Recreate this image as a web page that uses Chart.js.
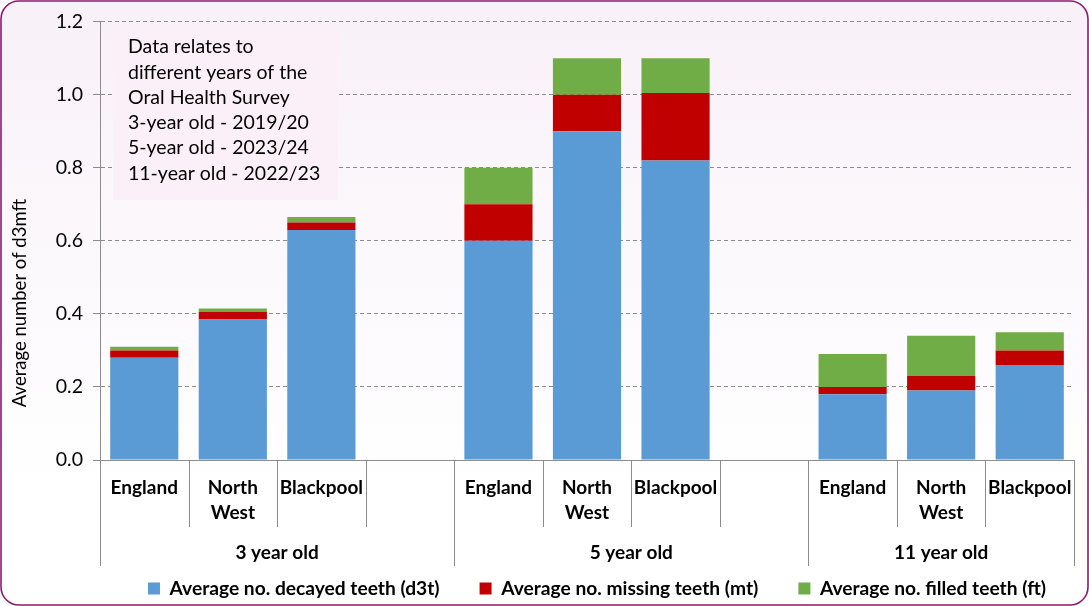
<!DOCTYPE html>
<html>
<head>
<meta charset="utf-8">
<script src="https://cdn.jsdelivr.net/npm/chart.js@4.4.1/dist/chart.umd.min.js"></script>
<style>
  html, body { margin: 0; padding: 0; background: #fff; }
  #wrap { width: 1089px; height: 606px; position: relative; }
</style>
</head>
<body>
<div id="wrap"><canvas id="chart"></canvas></div>
<script>
// categories (blank slot between age groups)
const regions = ['England', ['North', 'West'], 'Blackpool', '',
                 'England', ['North', 'West'], 'Blackpool', '',
                 'England', ['North', 'West'], 'Blackpool'];
const ageGroups = ['3 year old', '5 year old', '11 year old'];
const groupEdges = [0, 4, 8, 11]; // category edges where a new age group starts

// series values (average teeth per child)
const decayed = [0.28, 0.385, 0.63, null, 0.60, 0.90, 0.82, null, 0.18, 0.19, 0.26];
const missing = [0.02, 0.02, 0.02, null, 0.10, 0.10, 0.185, null, 0.02, 0.04, 0.04];
const filled  = [0.01, 0.01, 0.015, null, 0.10, 0.10, 0.095, null, 0.09, 0.11, 0.05];

const seriesNames = ['Average no. decayed teeth (d3t)', 'Average no. missing teeth (mt)', 'Average no. filled teeth (ft)'];
const yTitle = 'Average number of d3mft';
const noteLines = ['Data relates to', 'different years of the', 'Oral Health Survey',
                   '3-year old - 2019/20', '5-year old - 2023/24', '11-year old - 2022/23'];

const FONT = 'Lato, "Open Sans", sans-serif';
const AXIS_GREY = '#8c8c8c';

// background, border, note box, category separators and group labels
const decorations = {
  id: 'decorations',
  afterLayout(chart) {
    // the legend row sits right of centre in the original
    chart.legend.left += 60;
    chart.legend.right += 60;
  },
  beforeDraw(chart) {
    const ctx = chart.ctx;
    ctx.save();
    const g = ctx.createLinearGradient(0, 0, 0, chart.height);
    g.addColorStop(0, '#f8f1f8');
    g.addColorStop(0.8, '#ffffff');
    g.addColorStop(1, '#ffffff');
    ctx.fillStyle = g;
    ctx.beginPath();
    ctx.roundRect(1, 1, chart.width - 2, chart.height - 2, 18);
    ctx.fill();
    ctx.restore();
  },
  afterDraw(chart) {
    const ctx = chart.ctx;
    const x = chart.scales.x;
    const area = chart.chartArea;
    const step = x.getPixelForValue(1) - x.getPixelForValue(0);
    const first = x.getPixelForValue(0) - step / 2;

    ctx.save();
    // separators under the axis
    ctx.strokeStyle = AXIS_GREY;
    ctx.lineWidth = 1;
    for (let k = 0; k <= regions.length; k++) {
      const px = Math.round(first + k * step) + 0.5;
      const long = groupEdges.includes(k);
      ctx.beginPath();
      ctx.moveTo(px, area.bottom);
      ctx.lineTo(px, area.bottom + (long ? 106 : 67));
      ctx.stroke();
    }
    // age group labels
    ctx.fillStyle = '#000';
    ctx.font = 'bold 19px ' + FONT;
    ctx.textAlign = 'center';
    ctx.textBaseline = 'middle';
    ageGroups.forEach((name, i) => {
      const a = first + groupEdges[i] * step;
      const b = first + groupEdges[i + 1] * step;
      ctx.fillText(name, (a + b) / 2, area.bottom + 93);
    });

    // y axis title
    ctx.save();
    ctx.translate(20, 303);
    ctx.rotate(-Math.PI / 2);
    ctx.font = '18.5px ' + FONT;
    ctx.fillText(yTitle, 0, 0);
    ctx.restore();

    // note box
    ctx.fillStyle = '#fcf0f8';
    ctx.fillRect(113, 28, 225, 172);
    ctx.fillStyle = '#000';
    ctx.font = '19.5px ' + FONT;
    ctx.textAlign = 'left';
    noteLines.forEach((t, i) => ctx.fillText(t, 128, 47 + i * 25.3));

    // outer border
    ctx.strokeStyle = '#8b1a6f';
    ctx.lineWidth = 1.6;
    ctx.beginPath();
    ctx.roundRect(1, 1, chart.width - 2, chart.height - 2, 18);
    ctx.stroke();
    ctx.restore();
  }
};

new Chart(document.getElementById('chart'), {
  type: 'bar',
  data: {
    labels: regions,
    datasets: [
      { label: seriesNames[0], data: decayed, backgroundColor: '#5b9bd5' },
      { label: seriesNames[1], data: missing, backgroundColor: '#c00000' },
      { label: seriesNames[2], data: filled,  backgroundColor: '#70ad47' }
    ]
  },
  options: {
    responsive: true,
    maintainAspectRatio: false,
    animation: false,
    devicePixelRatio: 1,
    layout: { padding: { top: 18, right: 15, left: 0, bottom: -2 } },
    datasets: { bar: { barPercentage: 1, categoryPercentage: 0.77 } },
    plugins: {
      tooltip: { enabled: false },
      legend: {
        position: 'bottom',
        labels: {
          boxWidth: 12, boxHeight: 12, padding: 40,
          color: '#000',
          font: { family: FONT, size: 19.2, weight: 'bold' }
        }
      }
    },
    scales: {
      x: {
        stacked: true,
        grid: { display: false, drawTicks: false },
        border: { display: true, color: AXIS_GREY },
        ticks: {
          autoSkip: false, maxRotation: 0, padding: 15.5, color: '#000',
          font: { family: FONT, size: 19, weight: 'bold', lineHeight: 1.316 }
        },
        afterFit(scale) { scale.height = 78.8; }
      },
      y: {
        stacked: true,
        min: 0, max: 1.2,
        grid: { color: AXIS_GREY, tickLength: 7, tickBorderDash: [] },
        border: { display: true, color: AXIS_GREY, dash: [4, 3] },
        ticks: {
          stepSize: 0.2, padding: 10, color: '#000',
          font: { family: FONT, size: 19.5 },
          callback: v => v.toFixed(1)
        },
        afterFit(scale) { scale.width = 100; }
      }
    }
  },
  plugins: [decorations]
});
</script>
</body>
</html>
